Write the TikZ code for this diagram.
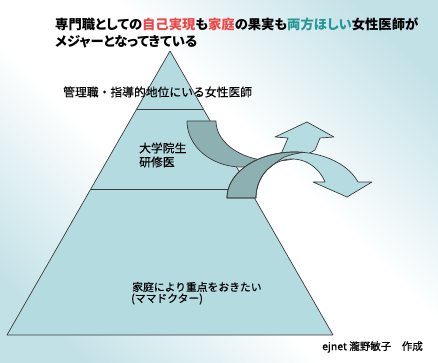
\documentclass[tikz,border=0pt]{standalone}
\usepackage{fontspec}
\newfontfamily\jp{Noto Sans CJK JP}[FakeBold=0.4]
\newfontfamily\jpp{Noto Sans CJK JP}[RawFeature={+palt}]
\definecolor{bgb}{RGB}{194,225,231}
\definecolor{pyrc}{RGB}{180,219,223}
\definecolor{darkc}{RGB}{141,176,178}
\definecolor{lightc}{RGB}{180,220,225}
\definecolor{edgec}{RGB}{60,60,60}
\definecolor{redt}{RGB}{238,70,70}
\definecolor{tealt}{RGB}{40,150,150}
\pgfdeclareverticalshading{bgdiag}{100bp}{color(0bp)=(bgb); color(22bp)=(bgb); color(43bp)=(white); color(57bp)=(white); color(78bp)=(bgb); color(100bp)=(bgb)}
\tikzset{
  edge/.style={draw=edgec, line width=0.7pt, line join=round},
  lbl/.style={inner sep=0pt, anchor=west, text=black},
}
\begin{document}
\begin{tikzpicture}[x=1pt,y=-1pt]
\useasboundingbox (0,0) rectangle (438,363);
\shade[shading=bgdiag, shading angle=135] (0,0) rectangle (438,363);

% pyramid
\coordinate (apex) at (170,51);
\coordinate (bl) at (7,335);
\coordinate (br) at (333,335);
\filldraw[fill=pyrc, edge] (apex) -- (br) -- (bl) -- cycle;
\coordinate (l1a) at (136.7,109);
\coordinate (l1b) at (203.3,109);
\coordinate (l2a) at (90.8,189);
\coordinate (l2b) at (240,189);
\draw[edge] (l1a) -- (l1b);
\draw[edge] (l2a) -- (l2b);

% curved up arrow
\def\upath{(187,121) -- plot[domain=180:42.4,samples=50] ({241.6+54.6*cos(\x)},{121+46*sin(\x)}) -- (288,138) -- (275,137) -- (307,122) -- (334,137) -- (320,138) -- (315,150) -- plot[domain=46.5:180,samples=50] ({274.6+58.6*cos(\x)},{121+40*sin(\x)}) -- cycle}
\fill[lightc] \upath;
\begin{scope}
\clip (0,0) rectangle (262,363);
\fill[darkc] \upath;
\end{scope}
\draw[edge] \upath;

% curved down arrow
\def\apath{(227,198) -- plot[domain=180:339.7,samples=60] ({294.6+67.6*cos(\x)},{198+46*sin(\x)}) -- (372,182) -- (347,197) -- (313,182) -- (325,182) -- plot[domain=335.8:180,samples=60] ({292.1+36.1*cos(\x)},{198+39*sin(\x)}) -- cycle}
\fill[lightc] \apath;
\filldraw[fill=darkc, edge] (227,198) -- plot[domain=180:277.1,samples=50] ({294.6+67.6*cos(\x)},{198+46*sin(\x)}) .. controls (284,156) .. (268,169) -- plot[domain=228.1:180,samples=30] ({292.1+36.1*cos(\x)},{198+39*sin(\x)}) -- cycle;
\draw[edge] \apath;

% texts
\node[lbl, font=\jpp\bfseries\fontsize{13.3}{16}\selectfont] (t1) at (55,24) {専門職としての\textcolor{redt}{自己実現}も\textcolor{redt}{家庭}の果実も\textcolor{tealt}{両方ほしい}女性医師が};
\node[lbl, font=\jpp\bfseries\fontsize{13.3}{16}\selectfont] (t2) at (55,42) {メジャーとなってきている};
\node[lbl, font=\jp\fontsize{11.8}{14}\selectfont] (top) at (63,92) {管理職・指導的地位にいる女性医師};
\node[lbl, font=\jp\fontsize{11.8}{14}\selectfont] (mid1) at (139,148) {大学院生};
\node[lbl, font=\jp\fontsize{11.8}{14}\selectfont] (mid2) at (139,162) {研修医};
\node[lbl, font=\jp\fontsize{10.8}{13}\selectfont] (bot1) at (132,287) {家庭により重点をおきたい};
\node[lbl, font=\jp\fontsize{10.8}{13}\selectfont] (bot2) at (131,299) {(ママドクター)};
\node[lbl, font=\jp\fontsize{10.5}{12}\selectfont] (cred) at (322,347) {ejnet 瀧野敏子　作成};
\end{tikzpicture}
\end{document}
